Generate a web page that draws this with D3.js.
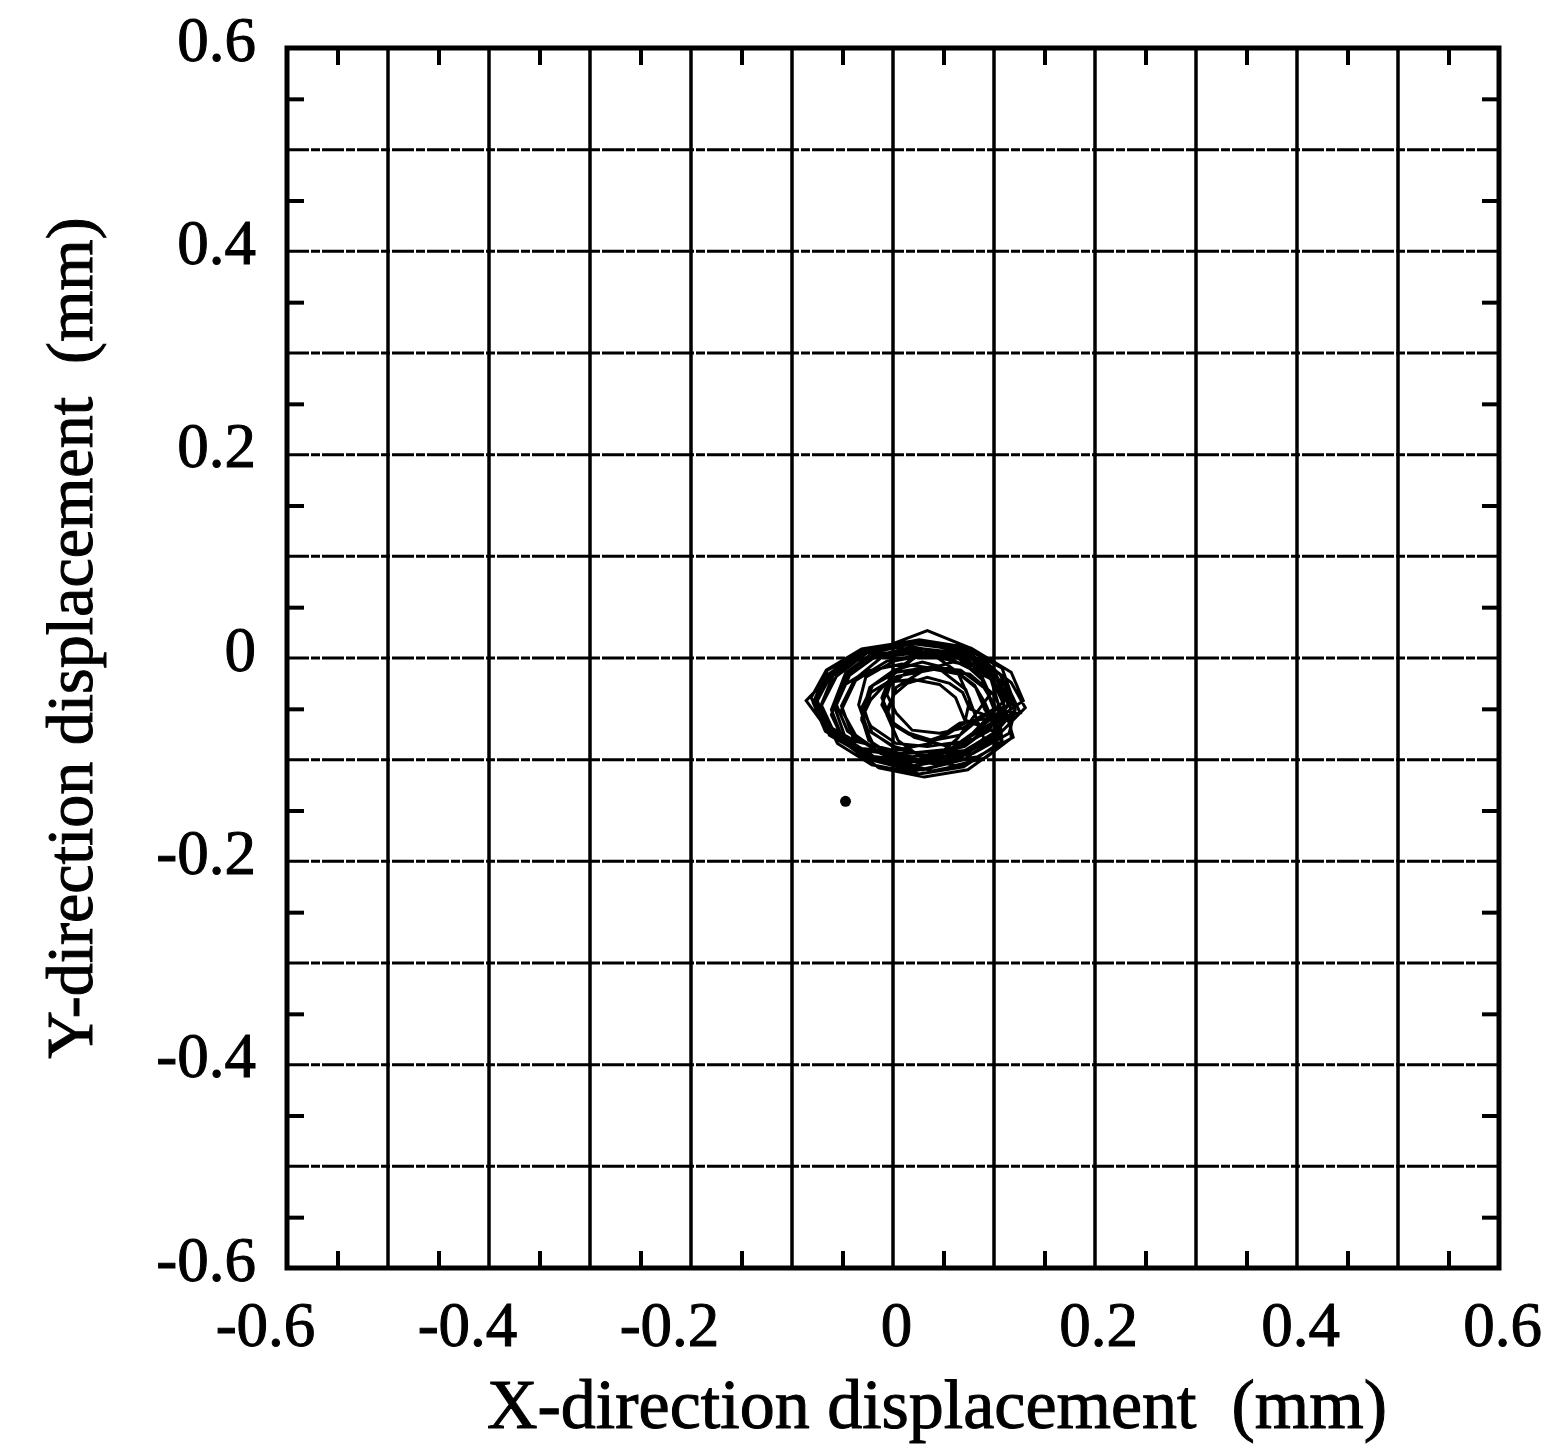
<!DOCTYPE html>
<html>
<head>
<meta charset="utf-8">
<script src="https://cdn.jsdelivr.net/npm/d3@7"></script>
<style>
  html, body { margin: 0; padding: 0; background: #fff; }
  svg { display: block; }
  text { font-family: "Liberation Serif", "Times New Roman", serif; fill: #000; stroke: #000; stroke-width: 1; }
</style>
</head>
<body>
<svg id="chart" width="1562" height="1453"></svg>
<script>
// ── Data ──────────────────────────────────────────────────
const labelTicks = [-0.6, -0.4, -0.2, 0, 0.2, 0.4, 0.6];
const gridTicks  = [-0.5, -0.4, -0.3, -0.2, -0.1, 0, 0.1, 0.2, 0.3, 0.4, 0.5];
const minorTicks = [-0.55, -0.45, -0.35, -0.25, -0.15, -0.05, 0.05, 0.15, 0.25, 0.35, 0.45, 0.55];

// shaft orbit (mm)
const orbitX = [
  0.110, 0.097, 0.066, 0.020, -0.026, -0.058, -0.071, -0.057, -0.024, 0.021, 0.064, 0.099,
  0.111, 0.098, 0.069, 0.031, -0.011, -0.038, -0.051, -0.040, -0.009, 0.029, 0.071, 0.098,
  0.121, 0.106, 0.073, 0.024, -0.023, -0.056, -0.072, -0.055, -0.021, 0.026, 0.070, 0.108,
  0.104, 0.097, 0.069, 0.036, 0.001, -0.027, -0.034, -0.025, 0.001, 0.034, 0.071, 0.095,
  0.119, 0.108, 0.069, 0.021, -0.031, -0.066, -0.081, -0.068, -0.029, 0.019, 0.071, 0.106,
  0.091, 0.081, 0.061, 0.029, 0.001, -0.023, -0.029, -0.021, 0.001, 0.031, 0.059, 0.083,
  0.114, 0.101, 0.072, 0.027, -0.016, -0.045, -0.058, -0.047, -0.014, 0.029, 0.070, 0.103,
  0.131, 0.117, 0.086, 0.041, -0.006, -0.037, -0.051, -0.037, -0.004, 0.041, 0.084, 0.119,
  0.109, 0.098, 0.061, 0.016, -0.033, -0.066, -0.086, -0.066, -0.031, 0.014, 0.063, 0.096,
  0.101, 0.090, 0.067, 0.036, 0.003, -0.020, -0.031, -0.022, 0.003, 0.034, 0.069, 0.090,
  0.129, 0.117, 0.077, 0.026, -0.029, -0.065, -0.079, -0.067, -0.027, 0.024, 0.079, 0.115,
  0.121, 0.107, 0.076, 0.034, -0.016, -0.047, -0.061, -0.049, -0.014, 0.031, 0.074, 0.109,
  0.091, 0.082, 0.066, 0.040, 0.014, -0.004, -0.011, -0.002, 0.016, 0.039, 0.066, 0.084,
  0.100, 0.088, 0.061, 0.019, -0.021, -0.048, -0.061, -0.050, -0.019, 0.021, 0.059, 0.090,
  0.081, 0.072, 0.046, 0.009, -0.026, -0.052, -0.061, -0.050, -0.024, 0.011, 0.044, 0.072,
  0.111, 0.101, 0.081, 0.049, 0.021, -0.003, -0.011, -0.001, 0.021, 0.051, 0.079, 0.103,
  0.076, 0.069, 0.056, 0.034, 0.014, 0.001, -0.006, 0.001, 0.016, 0.036, 0.054, 0.071,
  0.076, 0.064, 0.039, 0.001, -0.039, -0.064, -0.076, -0.066, -0.037, 0.001, 0.037, 0.066,
  0.126, 0.115, 0.094, 0.059, 0.029, 0.003, -0.006, 0.005, 0.027, 0.061, 0.092, 0.117,
  0.116, 0.103, 0.074, 0.029, -0.014, -0.043, -0.056, -0.045, -0.012, 0.031, 0.072, 0.105,
  0.071, 0.062, 0.046, 0.019, -0.006, -0.022, -0.031, -0.024, -0.004, 0.021, 0.044, 0.064,
  0.096, 0.087, 0.071, 0.044, 0.021, 0.001, -0.006, 0.003, 0.019, 0.046, 0.069, 0.089,
  0.116, 0.101, 0.069, 0.019, -0.029, -0.061, -0.076, -0.063, -0.027, 0.021, 0.067, 0.103,
  0.111, 0.100, 0.076, 0.041, 0.004, -0.022, -0.031, -0.020, 0.006, 0.039, 0.074, 0.102,
  0.112
];
const orbitY = [
  -0.045, -0.016, 0.008, 0.014, 0.006, -0.014, -0.046, -0.076, -0.096, -0.106, -0.098, -0.074,
  -0.049, -0.019, 0.001, 0.006, 0.001, -0.021, -0.047, -0.077, -0.095, -0.104, -0.095, -0.077,
  -0.051, -0.016, 0.005, 0.016, 0.007, -0.018, -0.049, -0.084, -0.105, -0.114, -0.107, -0.082,
  -0.044, -0.021, -0.001, 0.004, -0.003, -0.019, -0.046, -0.071, -0.087, -0.096, -0.087, -0.069,
  -0.041, -0.010, 0.011, 0.017, 0.009, -0.012, -0.039, -0.068, -0.091, -0.097, -0.091, -0.070,
  -0.051, -0.027, -0.012, -0.004, -0.012, -0.029, -0.049, -0.073, -0.088, -0.096, -0.088, -0.071,
  -0.046, -0.015, 0.008, 0.016, 0.006, -0.017, -0.048, -0.079, -0.100, -0.110, -0.100, -0.077,
  -0.049, -0.024, -0.001, 0.006, -0.003, -0.022, -0.051, -0.076, -0.099, -0.104, -0.097, -0.078,
  -0.044, -0.021, -0.003, 0.006, -0.001, -0.021, -0.042, -0.069, -0.089, -0.094, -0.089, -0.071,
  -0.047, -0.029, -0.012, -0.009, -0.014, -0.027, -0.049, -0.067, -0.084, -0.087, -0.082, -0.069,
  -0.042, -0.014, 0.010, 0.018, 0.008, -0.012, -0.044, -0.072, -0.096, -0.102, -0.094, -0.074,
  -0.051, -0.017, 0.010, 0.027, 0.008, -0.015, -0.051, -0.083, -0.108, -0.117, -0.110, -0.085,
  -0.044, -0.029, -0.016, -0.011, -0.014, -0.027, -0.046, -0.063, -0.074, -0.081, -0.076, -0.061,
  -0.050, -0.021, 0.003, 0.011, 0.001, -0.021, -0.051, -0.079, -0.101, -0.111, -0.103, -0.079,
  -0.055, -0.031, -0.011, -0.006, -0.013, -0.029, -0.056, -0.079, -0.099, -0.104, -0.097, -0.081,
  -0.041, -0.017, -0.002, 0.006, 0.000, -0.019, -0.039, -0.063, -0.078, -0.086, -0.080, -0.061,
  -0.050, -0.034, -0.025, -0.019, -0.025, -0.036, -0.051, -0.066, -0.075, -0.081, -0.075, -0.064,
  -0.041, -0.014, 0.004, 0.011, 0.002, -0.016, -0.039, -0.066, -0.082, -0.091, -0.084, -0.064,
  -0.054, -0.031, -0.011, -0.004, -0.013, -0.029, -0.056, -0.081, -0.097, -0.106, -0.098, -0.079,
  -0.044, -0.019, 0.004, 0.009, 0.004, -0.017, -0.046, -0.072, -0.094, -0.101, -0.092, -0.074,
  -0.061, -0.039, -0.026, -0.021, -0.024, -0.041, -0.059, -0.081, -0.094, -0.101, -0.096, -0.079,
  -0.036, -0.016, 0.001, 0.004, 0.001, -0.014, -0.036, -0.054, -0.071, -0.074, -0.069, -0.056,
  -0.046, -0.014, 0.006, 0.016, 0.006, -0.016, -0.044, -0.076, -0.096, -0.106, -0.098, -0.074,
  -0.059, -0.036, -0.016, -0.011, -0.018, -0.034, -0.061, -0.084, -0.102, -0.111, -0.104, -0.086,
  -0.046
];
// single stray point below-left of the orbit
const strayX = [-0.047];
const strayY = [-0.141];

// ── Layout ────────────────────────────────────────────────
const L = 287, R = 1499, T = 48, B = 1268;
const svg = d3.select('#chart');

const x = d3.scaleLinear().domain([-0.6, 0.6]).range([L, R]);
const y = d3.scaleLinear().domain([-0.6, 0.6]).range([B, T]);

const fmt = d => d === 0 ? '0' : d.toFixed(1);

// grid
svg.append('g').selectAll('line').data(gridTicks).join('line')
  .attr('x1', d => x(d)).attr('x2', d => x(d))
  .attr('y1', T).attr('y2', B)
  .attr('stroke', '#000').attr('stroke-width', 3.5);

svg.append('g').selectAll('line').data(gridTicks).join('line')
  .attr('x1', L).attr('x2', R)
  .attr('y1', d => y(d)).attr('y2', d => y(d))
  .attr('stroke', '#000').attr('stroke-width', 3)
  .attr('stroke-dasharray', '22 2 9 2');

// minor ticks, inward on all four sides
const TICK = 17;
const tickAxes = [
  [d3.axisBottom(x), `translate(0,${B})`],
  [d3.axisTop(x),    `translate(0,${T})`],
  [d3.axisLeft(y),   `translate(${L},0)`],
  [d3.axisRight(y),  `translate(${R},0)`]
];
tickAxes.forEach(([ax, tr]) => {
  const g = svg.append('g').attr('transform', tr)
    .call(ax.tickValues(minorTicks).tickSize(-TICK).tickFormat(''));
  g.select('.domain').remove();
  g.selectAll('.tick line').attr('stroke', '#000').attr('stroke-width', 4);
});

// frame
svg.append('rect')
  .attr('x', L).attr('y', T).attr('width', R - L).attr('height', B - T)
  .attr('fill', 'none').attr('stroke', '#000').attr('stroke-width', 5);

// tick labels
const xLab = svg.append('g').attr('transform', `translate(0,${B})`)
  .call(d3.axisBottom(x).tickValues(labelTicks).tickSize(0).tickFormat(fmt));
xLab.select('.domain').remove();
xLab.selectAll('text')
  .attr('font-size', 63).attr('font-family', '"Liberation Serif", serif')
  .attr('dy', null).attr('y', 78)
  .attr('dx', d => d < 0 ? -22 : 3);

const yLab = svg.append('g').attr('transform', `translate(${L},0)`)
  .call(d3.axisLeft(y).tickValues(labelTicks).tickSize(0).tickFormat(fmt));
yLab.select('.domain').remove();
yLab.selectAll('text')
  .attr('font-size', 63).attr('font-family', '"Liberation Serif", serif')
  .attr('x', -31).attr('dy', null).attr('y', 12);

// orbit
const orbit = orbitX.map((v, i) => [v, orbitY[i]]);
svg.append('path')
  .datum(orbit)
  .attr('fill', 'none').attr('stroke', '#000').attr('stroke-width', 3)
  .attr('stroke-linejoin', 'miter')
  .attr('d', d3.line().x(d => x(d[0])).y(d => y(d[1])));

svg.append('g').selectAll('circle').data(strayX).join('circle')
  .attr('cx', d => x(d)).attr('cy', (d, i) => y(strayY[i]))
  .attr('r', 5.5).attr('fill', '#000');

// axis titles
svg.append('text')
  .attr('x', 937).attr('y', 1428)
  .attr('text-anchor', 'middle').attr('font-size', 70)
  .style('white-space', 'pre')
  .text('X-direction displacement  (mm)');

svg.append('text')
  .attr('transform', 'translate(92,638) rotate(-90)')
  .attr('text-anchor', 'middle').attr('font-size', 66)
  .style('white-space', 'pre')
  .text('Y-direction displacement  (mm)');
</script>
</body>
</html>
